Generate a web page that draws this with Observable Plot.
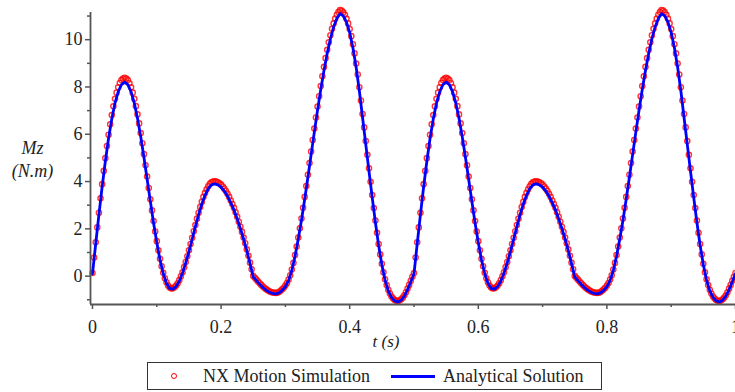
<!DOCTYPE html>
<html>
<head>
<meta charset="utf-8">
<script src="https://cdn.jsdelivr.net/npm/d3@7"></script>
<script src="https://cdn.jsdelivr.net/npm/@observablehq/plot@0.6"></script>
<style>
html, body { margin: 0; padding: 0; background: #fff; }
#wrap { position: relative; width: 735px; height: 392px; overflow: hidden; font-family: "Liberation Serif", "Times New Roman", serif; }
#legend { position: absolute; left: 147px; top: 362px; width: 455px; height: 28px; border: 1px solid #333; box-sizing: border-box; background: #fff; }
#legend .txt { position: absolute; top: 3px; font-size: 18px; line-height: 20px; color: #222; white-space: nowrap; }
#legend .circ { position: absolute; left: 23px; top: 10px; width: 4px; height: 4px; border: 1.3px solid #ff0000; border-radius: 50%; }
#legend .ln { position: absolute; left: 243px; top: 12px; width: 44px; height: 3px; background: #0000ff; }
</style>
</head>
<body>
<div id="wrap">
  <div id="chart"></div>
  <div id="legend">
    <span class="circ"></span>
    <span class="txt" style="left:55px">NX Motion Simulation</span>
    <span class="ln"></span>
    <span class="txt" style="left:295px">Analytical Solution</span>
  </div>
</div>
<script>
const xTicks = [0, 0.2, 0.4, 0.6, 0.8, 1];
const xTickLabels = ["0", "0.2", "0.4", "0.6", "0.8", "1"];
const xMinorTicks = [0.1, 0.3, 0.5, 0.7, 0.9];
const yTicks = [0, 2, 4, 6, 8, 10];
const yTickLabels = ["0", "2", "4", "6", "8", "10"];
const yMinorTicks = [-1, 1, 3, 5, 7, 9, 11];
const xDomain = [-0.0031, 1];
const yDomain = [-1.2, 11.15];

// Analytical Solution (time step 0.005 s)
const analyticalStep = 0.005;
const analyticalValues = [
  0.10, 1.37, 2.60, 3.78, 4.86, 5.83, 6.65, 7.32, 7.80, 8.10,
  8.20, 8.10, 7.80, 7.32, 6.68, 5.90, 5.03, 4.10, 3.16, 2.25,
  1.42, 0.69, 0.11, -0.30, -0.52, -0.55, -0.44, -0.21, 0.13, 0.56,
  1.04, 1.56, 2.09, 2.60, 3.05, 3.42, 3.70, 3.86, 3.90, 3.86,
  3.76, 3.60, 3.38, 3.11, 2.80, 2.43, 2.02, 1.57, 1.08, 0.53,
  -0.03, -0.19, -0.34, -0.48, -0.59, -0.68, -0.73, -0.75, -0.71, -0.60,
  -0.44, -0.18, 0.24, 0.84, 1.57, 2.36, 3.25, 4.18, 5.14, 6.09,
  7.02, 7.89, 8.70, 9.42, 10.04, 10.54, 10.90, 11.10, 11.01, 10.74,
  10.30, 9.66, 8.84, 7.84, 6.71, 5.57, 4.44, 3.33, 2.27, 1.30,
  0.48, -0.17, -0.62, -0.90, -1.05, -1.09, -1.02, -0.85, -0.57, -0.24,
  0.10, 1.37, 2.60, 3.78, 4.86, 5.83, 6.65, 7.32, 7.80, 8.10,
  8.20, 8.10, 7.80, 7.32, 6.68, 5.90, 5.03, 4.10, 3.16, 2.25,
  1.42, 0.69, 0.11, -0.30, -0.52, -0.55, -0.44, -0.21, 0.13, 0.56,
  1.04, 1.56, 2.09, 2.60, 3.05, 3.42, 3.70, 3.86, 3.90, 3.86,
  3.76, 3.60, 3.38, 3.11, 2.80, 2.43, 2.02, 1.57, 1.08, 0.53,
  -0.03, -0.19, -0.34, -0.48, -0.59, -0.68, -0.73, -0.75, -0.71, -0.60,
  -0.44, -0.18, 0.24, 0.84, 1.57, 2.36, 3.25, 4.18, 5.14, 6.09,
  7.02, 7.89, 8.70, 9.42, 10.04, 10.54, 10.90, 11.10, 11.01, 10.74,
  10.30, 9.66, 8.84, 7.84, 6.71, 5.57, 4.44, 3.33, 2.27, 1.30,
  0.48, -0.17, -0.62, -0.90, -1.05, -1.09, -1.02, -0.85, -0.57, -0.24,
  0.10
];

// NX Motion Simulation (time step 0.0025 s)
const simulationStep = 0.0025;
const simulationValues = [
  0.13, 0.79, 1.43, 2.06, 2.68, 3.29, 3.89, 4.45, 4.99, 5.50,
  5.98, 6.42, 6.81, 7.18, 7.50, 7.76, 7.99, 8.17, 8.29, 8.36,
  8.39, 8.36, 8.29, 8.16, 7.99, 7.76, 7.50, 7.19, 6.84, 6.46,
  6.05, 5.62, 5.16, 4.69, 4.21, 3.73, 3.25, 2.78, 2.33, 1.89,
  1.48, 1.09, 0.73, 0.42, 0.14, -0.09, -0.26, -0.40, -0.48, -0.52,
  -0.51, -0.47, -0.40, -0.30, -0.17, -0.01, 0.16, 0.38, 0.60, 0.84,
  1.09, 1.36, 1.62, 1.90, 2.16, 2.43, 2.68, 2.92, 3.14, 3.35,
  3.52, 3.67, 3.80, 3.90, 3.97, 4.00, 4.01, 4.00, 3.97, 3.93,
  3.87, 3.79, 3.70, 3.60, 3.48, 3.35, 3.20, 3.05, 2.89, 2.70,
  2.51, 2.30, 2.09, 1.87, 1.63, 1.39, 1.13, 0.86, 0.57, 0.29,
  0.01, -0.07, -0.15, -0.23, -0.30, -0.37, -0.44, -0.50, -0.55, -0.60,
  -0.64, -0.67, -0.69, -0.70, -0.71, -0.70, -0.67, -0.62, -0.56, -0.49,
  -0.40, -0.29, -0.14, 0.04, 0.28, 0.56, 0.89, 1.25, 1.63, 2.02,
  2.44, 2.89, 3.35, 3.81, 4.29, 4.78, 5.27, 5.76, 6.24, 6.71,
  7.17, 7.61, 8.04, 8.45, 8.85, 9.22, 9.57, 9.89, 10.19, 10.46,
  10.69, 10.89, 11.05, 11.17, 11.25, 11.23, 11.16, 11.05, 10.89, 10.69,
  10.45, 10.15, 9.81, 9.42, 8.99, 8.53, 7.99, 7.43, 6.86, 6.29,
  5.71, 5.13, 4.56, 3.99, 3.43, 2.88, 2.35, 1.83, 1.36, 0.92,
  0.52, 0.16, -0.13, -0.38, -0.58, -0.74, -0.86, -0.95, -1.01, -1.04,
  -1.05, -1.03, -0.98, -0.91, -0.81, -0.68, -0.53, -0.37, -0.20, -0.03,
  0.13, 0.79, 1.43, 2.06, 2.68, 3.29, 3.89, 4.45, 4.99, 5.50,
  5.98, 6.42, 6.81, 7.18, 7.50, 7.76, 7.99, 8.17, 8.29, 8.36,
  8.39, 8.36, 8.29, 8.16, 7.99, 7.76, 7.50, 7.19, 6.84, 6.46,
  6.05, 5.62, 5.16, 4.69, 4.21, 3.73, 3.25, 2.78, 2.33, 1.89,
  1.48, 1.09, 0.73, 0.42, 0.14, -0.09, -0.26, -0.40, -0.48, -0.52,
  -0.51, -0.47, -0.40, -0.30, -0.17, -0.01, 0.16, 0.38, 0.60, 0.84,
  1.09, 1.36, 1.62, 1.90, 2.16, 2.43, 2.68, 2.92, 3.14, 3.35,
  3.52, 3.67, 3.80, 3.90, 3.97, 4.00, 4.01, 4.00, 3.97, 3.93,
  3.87, 3.79, 3.70, 3.60, 3.48, 3.35, 3.20, 3.05, 2.89, 2.70,
  2.51, 2.30, 2.09, 1.87, 1.63, 1.39, 1.13, 0.86, 0.57, 0.29,
  0.01, -0.07, -0.15, -0.23, -0.30, -0.37, -0.44, -0.50, -0.55, -0.60,
  -0.64, -0.67, -0.69, -0.70, -0.71, -0.70, -0.67, -0.62, -0.56, -0.49,
  -0.40, -0.29, -0.14, 0.04, 0.28, 0.56, 0.89, 1.25, 1.63, 2.02,
  2.44, 2.89, 3.35, 3.81, 4.29, 4.78, 5.27, 5.76, 6.24, 6.71,
  7.17, 7.61, 8.04, 8.45, 8.85, 9.22, 9.57, 9.89, 10.19, 10.46,
  10.69, 10.89, 11.05, 11.17, 11.25, 11.23, 11.16, 11.05, 10.89, 10.69,
  10.45, 10.15, 9.81, 9.42, 8.99, 8.53, 7.99, 7.43, 6.86, 6.29,
  5.71, 5.13, 4.56, 3.99, 3.43, 2.88, 2.35, 1.83, 1.36, 0.92,
  0.52, 0.16, -0.13, -0.38, -0.58, -0.74, -0.86, -0.95, -1.01, -1.04,
  -1.05, -1.03, -0.98, -0.91, -0.81, -0.68, -0.53, -0.37, -0.20, -0.03,
  0.13
];

const analytical = analyticalValues.map((v, i) => ({t: i * analyticalStep, v}));
const simulation = simulationValues.map((v, i) => ({t: i * simulationStep, v}));

const axisColor = "#555";
const textColor = "#222";

const chart = Plot.plot({
  width: 735,
  height: 358,
  marginLeft: 90,
  marginRight: 0,
  marginTop: 12,
  marginBottom: 54,
  x: {domain: xDomain},
  y: {domain: yDomain},
  style: {fontFamily: "'Liberation Serif', 'Times New Roman', serif", fontSize: "18px", color: textColor, background: "#fff", overflow: "visible"},
  marks: [
    Plot.dot(simulation, {x: "t", y: "v", r: 2.6, stroke: "#ff0000", strokeWidth: 1.4, strokeOpacity: 0.8, fill: "none"}),
    Plot.line(analytical, {x: "t", y: "v", stroke: "#0000ff", strokeWidth: 2.8}),
    Plot.axisX({ticks: xTicks, tickFormat: d => xTickLabels[xTicks.indexOf(d)], tickSize: 5, tickPadding: 11, label: null, stroke: axisColor, strokeWidth: 1.5, fill: textColor}),
    Plot.axisX({ticks: xMinorTicks, tickSize: 3, text: null, label: null, stroke: axisColor, strokeWidth: 1.5}),
    Plot.axisY({ticks: yTicks, tickFormat: d => yTickLabels[yTicks.indexOf(d)], tickSize: 5, tickPadding: 3, label: null, stroke: axisColor, strokeWidth: 1.5, fill: textColor}),
    Plot.axisY({ticks: yMinorTicks, tickSize: 3, text: null, label: null, stroke: axisColor, strokeWidth: 1.5}),
    Plot.ruleY([yDomain[0]], {stroke: axisColor, strokeWidth: 1.8}),
    Plot.ruleX([xDomain[0]], {stroke: axisColor, strokeWidth: 1.8}),
    Plot.text(["Mz\n(N.m)"], {frameAnchor: "left", textAnchor: "middle", dx: -58, fontStyle: "italic", fontSize: 18, lineHeight: 1.25, fill: textColor}),
    Plot.text(["t (s)"], {frameAnchor: "bottom", dx: -27, dy: 42, fontStyle: "italic", fontSize: 17, fill: textColor})
  ]
});
document.getElementById("chart").appendChild(chart);
</script>
</body>
</html>
